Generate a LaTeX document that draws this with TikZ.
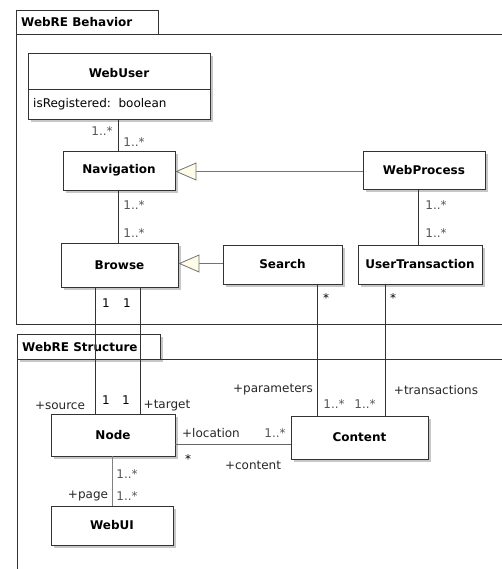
\documentclass[tikz,border=0pt]{standalone}
\usepackage{fontspec}
\setmainfont{DejaVu Sans}
\usetikzlibrary{arrows.meta,shadows}
\definecolor{cream}{HTML}{FFFCE8}
\definecolor{edge}{HTML}{333333}
\definecolor{mult}{HTML}{555555}
\begin{document}
\begin{tikzpicture}[x=1pt,y=-1pt,
  every node/.style={inner sep=0pt, font=\fontsize{12}{14}\selectfont},
  cls/.style={draw=edge, line width=0.9pt, fill=white, font=\fontsize{12}{14}\selectfont\bfseries,
    drop shadow={shadow xshift=3pt, shadow yshift=-3pt, fill=black!22, opacity=1}},
  frm/.style={draw=edge, line width=0.9pt},
  assoc/.style={draw=edge, line width=0.8pt},
  inherit/.style={draw=black!55, line width=0.8pt, -{Triangle[length=21pt,width=18pt,fill=cream,line width=0.8pt]}},
  mlt/.style={text=mult},
  role/.style={text=black!85}]
\useasboundingbox (0,0) rectangle (502,569);

% package frames
\draw[frm] (16,10) rectangle (158,34);
\draw[frm] (16,10) -- (16,324) -- (502,324);
\draw[frm] (158,34) -- (502,34);
\node[anchor=west, font=\fontsize{12}{14}\selectfont\bfseries] (tabb) at (21,22) {WebRE Behavior};
\draw[frm, fill=white, drop shadow={shadow xshift=3pt, shadow yshift=-3pt, fill=black!22, opacity=1}] (17,334) rectangle (160,359);
\draw[frm] (17,359) -- (17,569);
\draw[frm] (160,359) -- (502,359);
\node[anchor=west, font=\fontsize{12}{14}\selectfont\bfseries] (tabs) at (22,347) {WebRE Structure};

% classes
\node[cls, minimum width=182pt, minimum height=66pt] (webuser) at (119,86) {};
\draw[edge, line width=0.8pt] (28,89) -- (210,89);
\node[font=\fontsize{12}{14}\selectfont\bfseries] (webusert) at (119,73) {WebUser};
\node[anchor=west] (webusera) at (33,104) {isRegistered:\ \ boolean};

\node[cls, minimum width=112pt, minimum height=39pt] (navigation) at (119,170.5) {Navigation};
\node[cls, minimum width=122pt, minimum height=38pt] (webprocess) at (424,170) {WebProcess};
\node[cls, minimum width=117pt, minimum height=44pt] (browse) at (119.5,265) {Browse};
\node[cls, minimum width=119pt, minimum height=39pt] (search) at (282.5,264.5) {Search};
\node[cls, minimum width=124pt, minimum height=39pt] (usertrans) at (420,264.5) {UserTransaction};
\node[cls, minimum width=124pt, minimum height=42pt] (node) at (113,435) {Node};
\node[cls, minimum width=122pt, minimum height=39pt] (webui) at (112,525.5) {WebUI};
\node[cls, minimum width=137pt, minimum height=43pt] (content) at (359.5,437.5) {Content};

% line positions
\coordinate (xa) at (118,0);
\coordinate (xsrc) at (95,0);
\coordinate (xtgt) at (140,0);
\coordinate (xpar) at (317,0);
\coordinate (xtra) at (385,0);
\coordinate (xwp) at (418,0);
\coordinate (xpg) at (112,0);
\coordinate (yloc) at (0,444);
\coordinate (ynav) at (0,171.5);
\coordinate (ybr) at (0,263.5);

% generalizations
\draw[inherit] (webprocess.west |- ynav) -- (navigation.east |- ynav);
\draw[inherit] (search.west |- ybr) -- (browse.east |- ybr);

% associations
\draw[assoc] (webuser.south -| xa) -- (navigation.north -| xa);
\draw[assoc] (navigation.south -| xa) -- (browse.north -| xa);
\draw[assoc] (webprocess.south -| xwp) -- (usertrans.north -| xwp);
\draw[assoc] (browse.south -| xsrc) -- (node.north -| xsrc);
\draw[assoc] (browse.south -| xtgt) -- (node.north -| xtgt);
\draw[assoc] (search.south -| xpar) -- (content.north -| xpar);
\draw[assoc] (usertrans.south -| xtra) -- (content.north -| xtra);
\draw[assoc, draw=black!60] (node.east |- yloc) -- (content.west |- yloc);
\draw[assoc, draw=black!50] (node.south -| xpg) -- (webui.north -| xpg);

% multiplicities and roles
\node[mlt] (m1) at (102,131) {1..*};
\node[mlt] (m2) at (134,142) {1..*};
\node[mlt] (m3) at (134,205) {1..*};
\node[mlt] (m4) at (134,233) {1..*};
\node[mlt] (m5) at (436,205) {1..*};
\node[mlt] (m6) at (436,233) {1..*};
\node (m7) at (106,303) {1};
\node (m8) at (127,303) {1};
\node (m9) at (326,298) {*};
\node (m10) at (393,298) {*};
\node[role] (r1) at (60,406) {+source};
\node (m11) at (106,400) {1};
\node (m12) at (126,400) {1};
\node[role] (r2) at (167,406) {+target};
\node[role] (r3) at (211,433) {+location};
\node (m13) at (188,459) {*};
\node[role] (r4) at (253,465) {+content};
\node[mlt] (m14) at (275,433) {1..*};
\node[role] (r5) at (273,390) {+parameters};
\node[mlt] (m15) at (334,404) {1..*};
\node[mlt] (m16) at (365,404) {1..*};
\node[role] (r6) at (436,390) {+transactions};
\node[role] (r7) at (88,496) {+page};
\node[mlt] (m17) at (127,474) {1..*};
\node[mlt] (m18) at (127,496) {1..*};
\end{tikzpicture}
\end{document}
